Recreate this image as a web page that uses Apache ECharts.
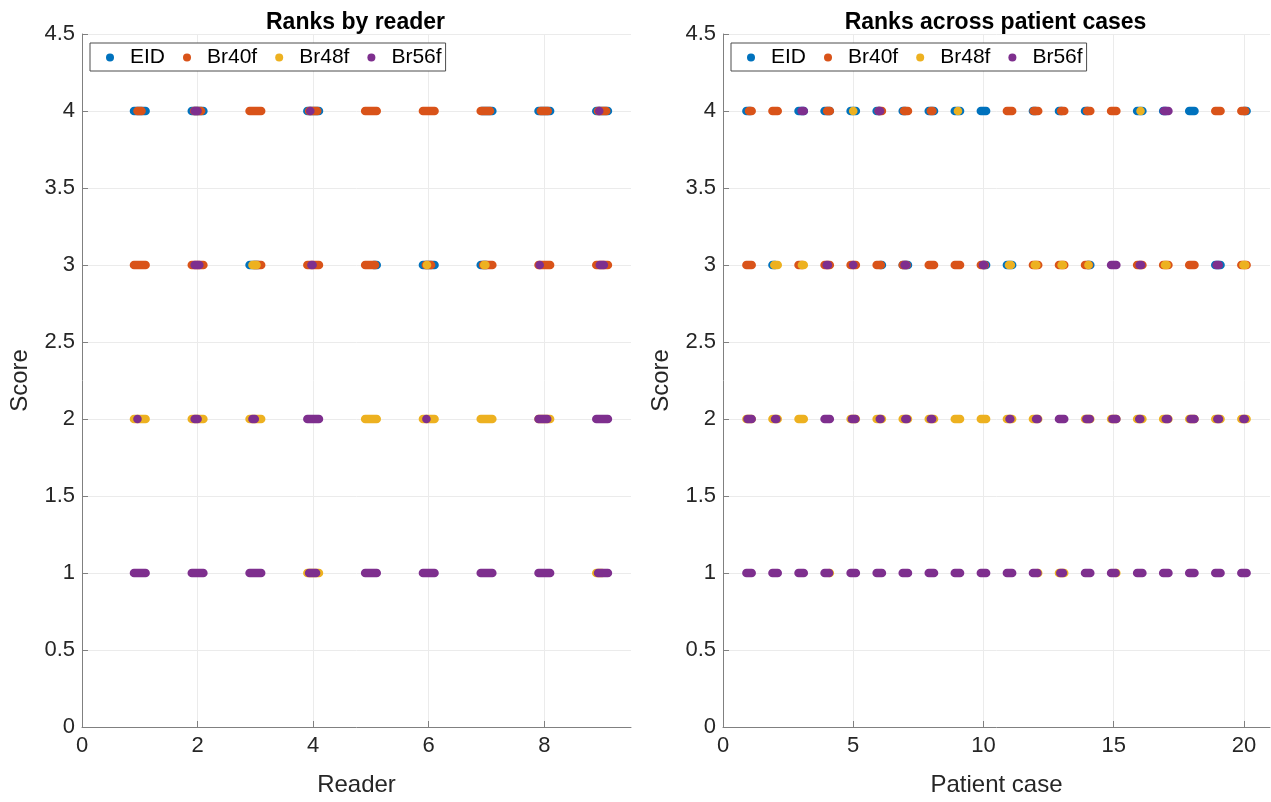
<!DOCTYPE html>
<html><head><meta charset="utf-8">
<script src="https://cdn.jsdelivr.net/npm/echarts@6/dist/echarts.min.js"></script>
<style>html,body{margin:0;padding:0;background:#fff}#c{width:1271px;height:802px}</style>
</head><body><div id="c"></div>
<script>
const methods = ['EID', 'Br40f', 'Br48f', 'Br56f'];
const colors = ['#0072BD', '#D95319', '#EDB120', '#7E2F8E'];
const titles = ['Ranks by reader', 'Ranks across patient cases'];
const xNames = ['Reader', 'Patient case'];
const yName = 'Score';
const readerTicks = [0, 2, 4, 6, 8];
const caseTicks = [0, 5, 10, 15, 20];
const scoreTicks = [0, 0.5, 1, 1.5, 2, 2.5, 3, 3.5, 4, 4.5];

// Left panel: [reader, score, jitter min, jitter max]
const readerEID = [
  [1,4,-0.1,0.1],[2,4,-0.1,0.1],[4,4,-0.1,0.1],[7,4,-0.08,0.1],[8,4,-0.1,0.1],[9,4,-0.1,0.1],
  [3,3,-0.1,0.05],[5,3,0.05,0.1],[6,3,-0.1,0.1],[7,3,-0.1,0.0]
];
const readerBr40f = [
  [1,4,-0.04,0.03],[2,4,-0.06,0.06],[3,4,-0.1,0.1],[4,4,-0.07,0.07],[5,4,-0.1,0.1],[6,4,-0.1,0.1],[7,4,-0.1,0.06],[8,4,-0.06,0.06],[9,4,-0.07,0.07],
  [1,3,-0.1,0.1],[2,3,-0.1,0.1],[3,3,-0.02,0.1],[4,3,-0.1,0.1],[5,3,-0.1,0.07],[6,3,-0.05,0.04],[7,3,-0.06,0.1],[8,3,-0.1,0.1],[9,3,-0.1,0.1]
];
const readerBr48f = [
  [3,3,-0.05,0.02],[6,3,-0.03,-0.03],[7,3,-0.04,-0.02],
  [1,2,-0.1,0.1],[2,2,-0.1,0.1],[3,2,-0.1,0.1],[5,2,-0.1,0.1],[6,2,-0.1,0.1],[7,2,-0.1,0.1],[8,2,-0.1,0.1],
  [4,1,-0.1,0.1],[9,1,-0.1,0.0]
];
const readerBr56f = [
  [2,4,-0.05,0.0],[4,4,-0.05,-0.05],[9,4,-0.05,-0.05],
  [2,3,-0.05,0.03],[4,3,-0.03,-0.01],[8,3,-0.08,-0.08],[9,3,-0.04,0.03],
  [1,2,-0.04,-0.04],[2,2,-0.05,0.0],[3,2,-0.05,-0.01],[4,2,-0.1,0.1],[6,2,-0.04,-0.04],[8,2,-0.1,0.05],[9,2,-0.1,0.1],
  [1,1,-0.1,0.1],[2,1,-0.1,0.1],[3,1,-0.1,0.1],[4,1,-0.07,0.05],[5,1,-0.1,0.1],[6,1,-0.1,0.1],[7,1,-0.1,0.1],[8,1,-0.1,0.1],[9,1,-0.07,0.1]
];

// Right panel: [case, score, jitter min, jitter max]
const caseEID = [
  [1,4,-0.1,0.05],[3,4,-0.1,0.1],[4,4,-0.1,0.1],[5,4,-0.1,0.1],[6,4,-0.1,0.0],[7,4,-0.1,0.0],[8,4,-0.1,0.1],[9,4,-0.1,0.1],[10,4,-0.1,0.1],
  [12,4,-0.1,0.0],[13,4,-0.1,0.0],[14,4,-0.1,0.0],[16,4,-0.1,0.1],[17,4,-0.1,0.0],[18,4,-0.1,0.1],[20,4,0.0,0.1],
  [2,3,-0.1,0.0],[6,3,0.05,0.1],[7,3,-0.1,0.1],[10,3,0.0,0.1],[11,3,-0.1,0.1],[14,3,0.0,0.1],[19,3,-0.1,0.1]
];
const caseBr40f = [
  [1,4,0.0,0.1],[2,4,-0.1,0.1],[4,4,0.0,0.1],[6,4,-0.02,0.1],[7,4,-0.05,0.1],[8,4,-0.02,0.04],[11,4,-0.1,0.1],[12,4,-0.07,0.1],
  [13,4,-0.02,0.1],[14,4,-0.02,0.1],[15,4,-0.1,0.1],[19,4,-0.1,0.1],[20,4,-0.1,0.05],
  [1,3,-0.1,0.1],[3,3,-0.1,0.05],[4,3,-0.1,0.1],[5,3,-0.1,0.1],[6,3,-0.1,0.06],[7,3,-0.1,0.05],[8,3,-0.1,0.1],[9,3,-0.1,0.1],
  [10,3,-0.1,0.05],[12,3,-0.1,0.1],[13,3,-0.1,0.1],[14,3,-0.1,0.05],[16,3,-0.1,0.1],[17,3,-0.1,0.1],[18,3,-0.1,0.1],[20,3,-0.1,0.1]
];
const caseBr48f = [
  [5,4,0.0,0.0],[9,4,0.02,0.02],[16,4,0.03,0.03],
  [2,3,-0.03,0.1],[3,3,0.03,0.1],[11,3,-0.02,0.05],[12,3,-0.03,0.03],[13,3,0.0,0.05],[14,3,0.03,0.03],[17,3,-0.03,0.03],[20,3,-0.02,0.05],
  [1,2,-0.1,0.1],[2,2,-0.1,0.1],[3,2,-0.1,0.1],[5,2,-0.1,0.1],[6,2,-0.1,0.1],[7,2,-0.1,0.1],[8,2,-0.1,0.1],[9,2,-0.1,0.1],[10,2,-0.1,0.1],
  [11,2,-0.1,0.1],[12,2,-0.1,0.1],[14,2,-0.1,0.1],[15,2,-0.1,0.1],[16,2,-0.1,0.1],[17,2,-0.1,0.1],[18,2,-0.1,0.1],[19,2,-0.1,0.1],[20,2,-0.1,0.1],
  [4,1,0.1,0.1],[12,1,0.1,0.1],[13,1,-0.1,0.1],[15,1,0.1,0.1]
];
const caseBr56f = [
  [3,4,0.02,0.1],[6,4,-0.02,0.03],[17,4,-0.07,0.1],
  [4,3,-0.02,0.03],[5,3,0.0,0.0],[7,3,-0.03,0.03],[10,3,-0.02,0.02],[15,3,-0.1,0.1],[16,3,0.0,0.05],[19,3,-0.05,0.03],
  [1,2,-0.06,0.1],[2,2,0.0,0.05],[4,2,-0.1,0.1],[5,2,-0.05,0.08],[6,2,0.02,0.05],[7,2,0.0,0.06],[8,2,-0.02,0.03],[11,2,0.0,0.03],
  [12,2,0.02,0.08],[13,2,-0.1,0.1],[14,2,-0.05,0.08],[15,2,-0.05,0.1],[16,2,-0.02,0.02],[17,2,0.0,0.08],[18,2,-0.05,0.1],[19,2,-0.02,0.04],[20,2,-0.02,0.03],
  [1,1,-0.1,0.1],[2,1,-0.1,0.1],[3,1,-0.1,0.1],[4,1,-0.1,0.07],[5,1,-0.1,0.1],[6,1,-0.1,0.1],[7,1,-0.1,0.1],[8,1,-0.1,0.1],[9,1,-0.1,0.1],[10,1,-0.1,0.1],
  [11,1,-0.1,0.1],[12,1,-0.1,0.07],[13,1,-0.05,0.05],[14,1,-0.1,0.1],[15,1,-0.1,0.07],[16,1,-0.1,0.1],[17,1,-0.1,0.1],[18,1,-0.1,0.1],[19,1,-0.1,0.1],[20,1,-0.1,0.1]
];

const panelData = [
  [readerEID, readerBr40f, readerBr48f, readerBr56f],
  [caseEID, caseBr40f, caseBr48f, caseBr56f]
];

const FONT = '"Liberation Sans", Arial, Helvetica, sans-serif';
const TXT = '#262626';
const AX = '#808080';
const R = 4.3;

function renderPill(params, api) {
  const x = api.value(0), y = api.value(1), lo = api.value(2), hi = api.value(3);
  const a = api.coord([x + lo, y]);
  const b = api.coord([x + hi, y]);
  return {
    type: 'rect',
    shape: { x: a[0] - R, y: a[1] - R, width: b[0] - a[0] + 2 * R, height: 2 * R, r: R },
    style: { fill: api.visual('color') }
  };
}

const grids = [
  { left: 82, top: 34, width: 549, height: 693 },
  { left: 723, top: 34, width: 547, height: 693 }
];
const xMax = [9.5, 21];
const xInterval = [2, 5];
const xTicks = [readerTicks, caseTicks];

const xAxes = [0, 1].map(i => ({
  type: 'value', gridIndex: i, min: 0, max: xMax[i], interval: xInterval[i],
  name: xNames[i], nameLocation: 'middle', nameGap: 46,
  nameTextStyle: { fontSize: 24, color: TXT, fontFamily: FONT },
  axisLine: { show: true, onZero: false, lineStyle: { color: AX, width: 1 } },
  axisTick: { show: true, inside: true, length: 6, customValues: xTicks[i], lineStyle: { color: AX } },
  axisLabel: { customValues: xTicks[i], fontSize: 22, color: TXT, fontFamily: FONT, margin: 8 },
  splitLine: { show: true, showMinLine: false, lineStyle: { color: '#ebebeb', width: 1 } }
}));
const yAxes = [0, 1].map(i => ({
  type: 'value', gridIndex: i, min: 0, max: 4.5, interval: 0.5,
  name: yName, nameLocation: 'middle', nameGap: 50, nameRotate: 90,
  nameTextStyle: { fontSize: 24, color: TXT, fontFamily: FONT },
  axisLine: { show: true, onZero: false, lineStyle: { color: AX, width: 1 } },
  axisTick: { show: true, inside: true, length: 6, customValues: scoreTicks, lineStyle: { color: AX } },
  axisLabel: { customValues: scoreTicks, fontSize: 22, color: TXT, fontFamily: FONT, margin: 7 },
  splitLine: { show: true, showMinLine: false, lineStyle: { color: '#ebebeb', width: 1 } }
}));

const series = [];
[0, 1].forEach(p => {
  methods.forEach((m, k) => {
    series.push({
      type: 'custom', name: m, xAxisIndex: p, yAxisIndex: p,
      data: panelData[p][k], encode: { x: 0, y: 1 },
      renderItem: renderPill, clip: false,
      itemStyle: { color: colors[k] }
    });
  });
});

const legendLeft = [90, 731];
const option = {
  animation: false,
  backgroundColor: '#fff',
  color: colors,
  title: [0, 1].map(i => ({
    text: titles[i], left: grids[i].left + grids[i].width / 2 - 6, top: 6, textAlign: 'center',
    textStyle: { fontSize: 23, fontWeight: 'bold', color: '#000', fontFamily: FONT }
  })),
  legend: [0, 1].map(i => ({
    data: methods.map(m => ({ name: m, icon: 'circle' })),
    left: legendLeft[i], top: 43, orient: 'horizontal',
    itemWidth: 30, itemHeight: 8, itemGap: 18,
    padding: [4, 4, 3, 16],
    backgroundColor: '#fff', borderColor: '#4d4d4d', borderWidth: 1,
    textStyle: { fontSize: 21, color: '#000', fontFamily: FONT },
    selectedMode: false, z: 10
  })),
  grid: grids,
  xAxis: xAxes,
  yAxis: yAxes,
  series: series
};

const chart = echarts.init(document.getElementById('c'), null, { renderer: 'canvas' });
chart.setOption(option);
</script>
</body></html>
